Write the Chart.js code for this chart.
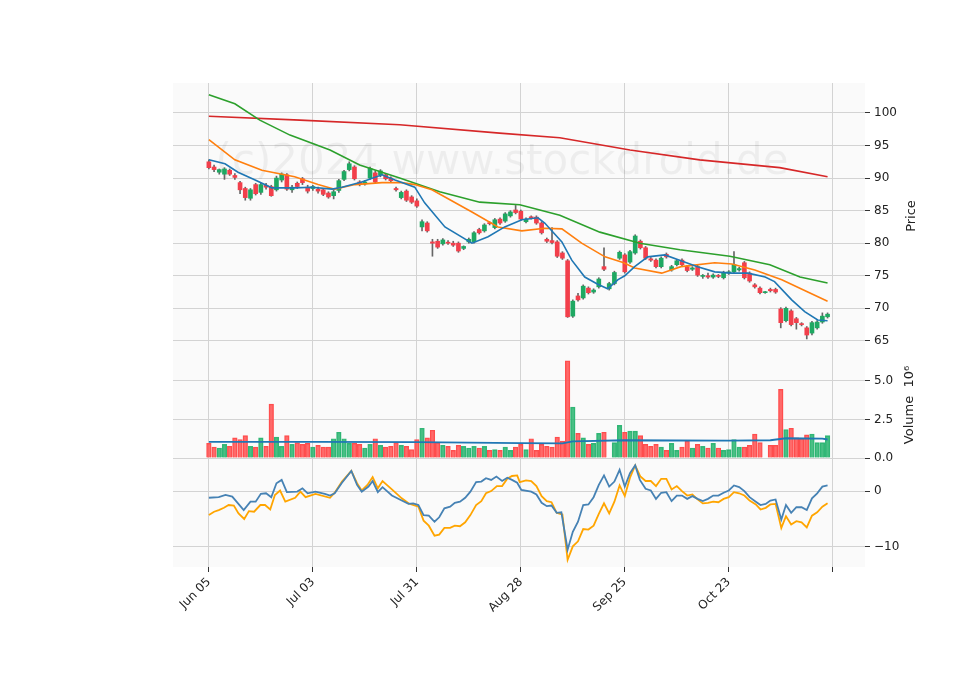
<!DOCTYPE html>
<html>
<head>
<meta charset="utf-8">
<script src="https://cdn.jsdelivr.net/npm/chart.js@4.4.1/dist/chart.umd.min.js"></script>
<style>
  body { margin: 0; background: #fff; }
  #wrap { position: relative; width: 960px; height: 690px; }
  canvas { position: absolute; left: 0; }
</style>
</head>
<body>
<div id="wrap">
  <canvas id="price" style="top:0" width="960" height="350"></canvas>
  <canvas id="macd" style="top:457px" width="960" height="233"></canvas>
  <canvas id="vol" style="top:350px" width="960" height="120"></canvas>
</div>
<script>
// daily candles, index 0 = Jun 05
const opens  = [92.5,91.7,90.9,90.6,91.2,90.4,89.3,88.4,86.9,89.0,87.8,88.9,88.7,88.2,89.7,90.5,88.2,89.2,89.9,88.6,
  88.4,88.3,88.2,87.7,87.3,88.1,89.8,91.3,91.7,89.4,89.1,90.0,90.8,90.5,90.5,90.0,88.4,87.0,88.0,87.1,
  86.5,82.5,83.1,80.2,80.3,79.9,80.1,80.0,80.0,79.2,80.2,80.2,82.1,81.9,83.1,82.4,83.7,83.4,84.2,85.1,
  84.9,83.3,84.0,84.0,83.1,80.6,80.4,80.2,78.5,77.3,68.8,71.9,71.6,73.1,72.5,73.3,76.4,73.0,73.8,77.7,
  78.2,77.1,78.5,80.3,79.3,77.6,77.4,76.4,78.3,75.9,76.7,77.4,76.4,76.0,76.4,74.9,75.0,74.8,75.0,74.7,
  75.4,75.6,75.9,77.0,75.4,73.6,73.1,72.4,72.9,72.9,69.9,68.1,69.6,68.4,67.6,67.0,66.2,67.0,67.9,68.7];
const highs  = [92.8,92.0,91.4,91.6,91.4,90.7,89.5,88.6,88.4,89.2,89.2,89.2,88.9,90.3,90.8,90.7,88.9,89.4,90.1,88.9,
  88.9,88.6,88.4,87.9,88.2,89.8,91.2,92.5,91.9,89.6,89.6,91.7,91.1,91.3,90.7,90.2,88.6,88.0,88.2,87.3,
  86.8,83.6,83.3,80.6,80.6,80.7,80.4,80.3,80.2,79.6,80.8,81.8,82.3,83.0,83.3,83.8,83.9,84.7,85.0,85.8,
  85.1,83.9,84.2,84.2,83.3,80.8,82.4,80.4,78.7,77.5,71.3,72.3,73.6,73.3,73.0,74.7,79.3,74.0,75.7,78.8,
  78.4,78.9,81.3,80.5,79.5,77.8,77.6,77.9,78.5,76.6,77.5,77.6,76.6,76.4,76.6,75.2,75.4,75.3,75.2,75.7,
  75.8,78.7,76.3,77.2,75.6,73.8,73.3,72.6,73.1,73.1,70.1,70.2,69.8,68.6,67.8,67.2,68.0,68.1,69.3,69.3];
const lows   = [91.4,91.0,90.6,89.8,90.4,89.8,87.6,86.6,86.6,87.4,87.5,88.3,87.2,88.0,89.4,88.1,87.8,88.4,89.0,87.7,
  88.1,87.7,87.3,86.9,86.8,87.8,89.6,91.1,89.7,88.8,88.9,89.8,89.2,90.2,89.7,89.4,88.0,86.8,86.4,86.1,
  85.5,81.9,81.7,78.0,79.2,79.7,79.8,79.5,78.6,79.0,80.0,80.0,81.4,81.7,82.8,82.2,82.9,83.2,84.0,84.5,
  83.5,83.1,83.7,82.9,81.4,80.1,79.9,77.8,77.5,68.6,68.6,71.1,71.4,72.2,72.3,73.1,75.8,72.8,73.6,77.5,
  75.4,76.9,78.3,79.1,77.5,77.2,76.2,76.2,77.7,75.7,76.5,76.5,75.6,75.8,74.9,74.6,74.6,74.6,74.7,74.5,
  75.2,75.4,75.7,74.5,74.0,73.1,72.2,72.3,72.5,72.3,67.0,67.9,67.3,66.8,67.3,65.3,65.9,66.8,67.7,68.5];
const closes = [91.6,91.3,91.3,91.4,90.6,90.1,88.2,87.0,88.2,87.6,89.0,88.6,87.3,90.0,90.6,88.3,88.6,88.7,89.3,88.0,
  88.7,88.0,87.5,87.1,87.9,89.6,91.0,92.2,89.9,89.0,89.4,91.5,89.4,91.1,89.9,89.6,88.2,87.8,86.6,86.3,
  85.7,83.3,81.9,80.0,79.4,80.5,80.0,79.7,78.8,79.5,80.6,81.6,81.6,82.8,83.0,83.6,83.1,84.5,84.8,84.7,
  83.7,83.7,83.9,83.1,81.6,80.3,80.1,78.0,77.7,68.7,71.1,71.3,73.4,72.4,72.8,74.5,76.0,73.8,75.5,78.6,
  75.6,78.7,81.1,79.3,77.7,77.4,76.4,77.7,77.9,76.4,77.3,76.7,75.8,76.2,75.1,74.9,74.8,75.1,74.9,75.5,
  75.6,76.7,76.1,74.7,74.2,73.3,72.4,72.4,72.7,72.5,67.8,70.0,67.5,67.8,67.5,65.9,67.8,67.9,68.8,69.1];
// volume in millions
const volumes = [0.95,0.70,0.65,0.88,0.75,1.30,1.20,1.45,0.75,0.70,1.30,0.75,3.50,1.35,0.75,1.45,0.88,1.00,0.88,0.95,
  0.70,0.82,0.70,0.70,1.25,1.67,1.25,0.95,0.95,0.88,0.65,0.88,1.25,0.82,0.70,0.75,1.00,0.82,0.75,0.55,
  1.20,1.93,1.30,1.80,1.00,0.82,0.75,0.50,0.82,0.75,0.65,0.75,0.65,0.75,0.50,0.55,0.50,0.70,0.50,0.70,
  0.88,0.55,1.25,0.50,0.88,0.75,0.70,1.35,1.10,6.30,3.30,1.60,1.30,0.88,0.95,1.60,1.67,0,1.00,2.12,
  1.67,1.75,1.75,1.45,0.88,0.75,0.88,0.70,0.50,0.95,0.50,0.70,1.10,0.65,0.88,0.75,0.65,0.95,0.65,0.50,
  0.55,1.20,0.70,0.70,0.82,1.55,1.00,0,0.82,0.82,4.45,1.85,1.93,1.30,1.25,1.50,1.55,1.00,1.00,1.45];

// moving averages: [index, value]
const ma5  = [[0,92.8],[3.1,92.2],[5.6,90.9],[8.9,89.7],[12.1,88.5],[16.5,88.5],[19.8,88.6],[23.7,88.3],[25.6,88.6],
  [29.4,89.4],[33.3,90.5],[35.8,89.7],[39.6,88.6],[41.5,86.2],[45.4,82.5],[50.6,80.0],[53.7,81.0],[56.9,82.5],
  [60.2,83.6],[63.3,83.9],[64.6,83.1],[67.9,80.2],[69.8,77.4],[72.3,74.8],[74.8,73.7],[76.7,73.0],[78.7,74.4],
  [80,75.0],[81.9,76.4],[84.4,77.9],[87.7,78.2],[90.8,77.3],[94,76.4],[97.3,75.6],[100.6,75.4],[103.7,75.4],
  [107,74.8],[108.8,74.1],[112.1,71.3],[114.6,69.5],[117.1,68.2],[119,68.1]];
const ma10 = [[0,95.9],[5,92.8],[10.2,91.2],[16.5,90.2],[21,89.0],[24.2,88.3],[28.1,89.0],[33.3,89.3],[37.1,89.3],
  [39.6,89.0],[42.9,88.2],[50.6,84.8],[55.6,82.5],[60.2,81.9],[64.6,82.3],[67.9,82.2],[71.7,80.0],[76.2,77.9],
  [79.8,77.0],[81.9,76.2],[87.1,75.4],[90.8,76.4],[97.3,77.0],[100.6,76.8],[105,75.9],[110.2,74.4],[115.2,72.5],[119,71.1]];
const ma20 = [[0,102.8],[5,101.4],[9.8,98.9],[15.6,96.6],[23.3,94.3],[29,92.0],[36.7,90.0],[44.4,87.9],[52.1,86.3],
  [59.8,85.9],[67.5,84.3],[75.2,81.7],[82.9,80.0],[90.6,79.0],[100.2,78.0],[107.9,76.7],[113.7,74.8],[119,73.9]];
const ma50 = [[0,99.5],[17.5,98.9],[36.7,98.2],[55.9,96.9],[67.5,96.2],[81,94.3],[94.4,92.8],[109.8,91.6],[119,90.2]];
const volMa = [[0,1.05],[20,1.05],[40,1.03],[60,0.97],[68,0.95],[70,1.08],[80,1.15],[100,1.12],[108,1.15],[111,1.28],[118,1.25],[119,1.2]];

const macdLine = [[0,-1.2],[1.9,-1.1],[3.2,-0.7],[4.5,-1.0],[6.7,-3.4],[8,-1.9],[9,-1.9],[10,-0.5],[11,-0.4],[12,-1.1],
  [13,1.4],[14,2.0],[15,-0.2],[17,-0.1],[18,0.5],[19,-0.4],[20.5,-0.1],[22.3,-0.5],[23.3,-0.8],[24.2,-0.4],[25.6,1.5],
  [27.4,3.6],[28.5,1.1],[29.4,-0.1],[30.7,0.8],[31.5,1.8],[32.5,-0.2],[33.4,0.7],[35.2,-0.8],[37.1,-1.7],[38.4,-2.3],
  [39.3,-2.2],[40.3,-2.5],[41.3,-4.3],[42.3,-4.4],[43.4,-5.5],[44.3,-4.7],[45.3,-3.1],[46.4,-2.8],[47.3,-2.1],[48.3,-1.9],
  [49.3,-1.2],[50.3,-0.1],[51.4,1.6],[52.4,1.7],[53.3,2.3],[54.3,2.0],[55.3,2.6],[56.4,1.8],[57.4,2.4],[58.3,2.0],
  [59.3,1.5],[60.1,0.2],[62,-0.1],[63,-0.6],[64,-2.1],[65,-2.7],[65.9,-2.6],[66.9,-3.9],[67.8,-3.8],[69,-10.5],
  [70,-7.3],[71,-5.5],[72,-2.5],[73,-2.4],[74,-1.1],[75,1.1],[76,2.8],[77,0.8],[78,1.7],[79,3.8],[80,0.8],[81,3.2],
  [82,4.6],[82.9,2.0],[84,0.4],[85,0.1],[86,-1.4],[87,-0.3],[88,-0.2],[89,-1.8],[90,-0.8],[91,-0.8],[92,-1.4],[93,-0.9],
  [94,-1.4],[95,-1.8],[96,-1.4],[97,-0.8],[98,-0.8],[99,-0.3],[100,0.1],[101,1.0],[102,0.7],[103,0.0],[104,-1.1],
  [105.2,-1.9],[106.1,-2.5],[107.1,-2.3],[108,-1.7],[109,-1.5],[110.1,-5.1],[111,-2.5],[112,-3.9],[113,-2.9],[114,-2.9],
  [115,-3.4],[116,-1.3],[117,-0.4],[118,0.8],[119,1.0]];
const signalLine = [[0,-4.3],[1,-3.7],[1.9,-3.4],[2.9,-3.0],[3.8,-2.5],[4.8,-2.6],[5.7,-4.0],[6.8,-5.0],[7.7,-3.6],[8.7,-3.7],
  [9.9,-2.5],[10.8,-2.5],[11.8,-3.3],[12.7,-0.7],[13.7,0.1],[14.7,-1.9],[16.6,-1.2],[17.6,-0.1],[18.6,-1.1],[20.5,-0.5],
  [23.3,-1.2],[24.2,-0.3],[25.6,1.7],[27.4,3.6],[28.5,1.4],[29.4,0.1],[30.5,1.1],[31.5,2.5],[32.5,0.5],[33.4,1.8],
  [35.2,0.3],[37.1,-1.3],[38.4,-2.2],[40.3,-2.8],[41.3,-5.3],[42.3,-6.2],[43.4,-8.0],[44.3,-7.8],[45.3,-6.6],[46.4,-6.6],
  [47.3,-6.2],[48.3,-6.3],[49.3,-5.6],[50.3,-4.3],[51.4,-2.5],[52.4,-1.8],[53.3,-0.4],[54.3,0.0],[55.4,0.9],[56.4,0.9],
  [57.4,2.2],[58.3,2.7],[59.3,2.8],[59.8,1.6],[61,1.9],[62,1.8],[63,0.9],[64,-0.9],[65,-1.8],[65.9,-2.0],[66.9,-3.9],
  [68,-4.2],[69,-12.3],[70,-9.9],[71,-9.0],[72,-6.8],[73,-6.9],[74,-6.2],[75,-4.1],[76,-2.2],[77,-4.0],[78,-1.9],[79,1.0],
  [80,-0.9],[81,2.4],[82,4.6],[83,2.6],[84,1.8],[85,1.8],[86,0.9],[87,2.2],[88,2.2],[89,0.3],[90,0.9],[91,0.0],[92,-0.8],
  [93,-0.6],[94,-1.5],[95,-2.2],[96,-2.1],[97,-1.9],[98,-2.0],[99,-1.4],[100,-1.1],[101,-0.2],[102,-0.4],[103,-0.8],
  [104,-1.7],[105.2,-2.4],[106.1,-3.3],[107.1,-3.0],[108,-2.4],[109,-2.3],[110.1,-6.6],[111,-4.5],[112,-6.0],[113,-5.4],
  [114,-5.6],[115,-6.5],[116,-4.4],[117,-3.8],[118,-2.8],[119,-2.2]];

const xTicks = [0, 20, 40, 60, 80, 100, 120];
const xTickLabels = ["Jun 05", "Jul 03", "Jul 31", "Aug 28", "Sep 25", "Oct 23", ""];
const priceTicks = [65, 70, 75, 80, 85, 90, 95, 100];
const volTicks = [0, 2.5, 5.0];
const macdTicks = [-10, 0];

const UP = "#1ea862", DOWN = "#f23f4b";
const VUP = "rgba(40,180,110,0.85)", VDOWN = "rgba(255,80,80,0.85)";
const GRID = "#d3d3d3";
const FONT = { family: "DejaVu Sans", size: 12 };
const up = closes.map((c, i) => c >= opens[i]);

const bgPlugin = {
  id: "bg",
  beforeDraw(chart) {
    const { ctx, chartArea: a } = chart;
    ctx.save();
    ctx.fillStyle = "#fafafa";
    ctx.fillRect(a.left, a.top, a.right - a.left, a.bottom - a.top);
    ctx.restore();
  },
};

function titlePlugin(text, x, y) {
  return {
    id: "ytitle",
    afterDraw(chart) {
      const ctx = chart.ctx;
      ctx.save();
      ctx.translate(x, y);
      ctx.rotate(-Math.PI / 2);
      ctx.fillStyle = "#222";
      ctx.font = "13px 'DejaVu Sans'";
      ctx.textAlign = "center";
      ctx.textBaseline = "middle";
      ctx.fillText(text, 0, 0);
      ctx.restore();
    },
  };
}

const watermark = {
  id: "wm",
  beforeDatasetsDraw(chart) {
    const ctx = chart.ctx;
    ctx.save();
    ctx.fillStyle = "rgba(0,0,0,0.05)";
    ctx.font = "42px 'DejaVu Sans'";
    ctx.textAlign = "center";
    ctx.textBaseline = "middle";
    ctx.fillText("(c)2024 www.stockdroid.de", 502, 163);
    ctx.restore();
  },
};

function xScale(showLabels) {
  return {
    type: "linear", min: -6.9, max: 126.2, offset: false,
    afterBuildTicks: (s) => { s.ticks = xTicks.map((v) => ({ value: v })); },
    afterFit: (s) => {
      if (!showLabels) s.height = 0;
      s.paddingLeft = 0; s.paddingRight = 0;
    },
    grid: { color: GRID, offset: false, drawTicks: showLabels, tickLength: 5, tickColor: "#333" },
    border: { display: false },
    ticks: {
      display: showLabels, font: FONT, color: "#222", minRotation: 45, maxRotation: 45,
      callback: (v) => { const k = xTicks.indexOf(v); return k >= 0 ? xTickLabels[k] : ""; },
    },
  };
}

function yScale(min, max, ticks, fmt) {
  return {
    position: "right", min, max,
    afterBuildTicks: (s) => { s.ticks = ticks.map((v) => ({ value: v })); },
    afterFit: (s) => { s.width = 95; s.paddingTop = 0; s.paddingBottom = 0; },
    grid: { color: GRID, tickLength: 5, tickColor: "#333" },
    border: { display: false },
    ticks: { font: FONT, color: "#222", padding: 4, callback: fmt },
  };
}

const baseOpts = (padTop, padBottom) => ({
  responsive: false, animation: false,
  layout: { padding: { left: 173, top: padTop, right: 0, bottom: padBottom || 0 } },
  plugins: { legend: { display: false }, tooltip: { enabled: false } },
});

const line = (pts, color, w) => ({
  type: "line", data: pts.map(([x, y]) => ({ x, y })), borderColor: color,
  borderWidth: w, pointRadius: 0, tension: 0, fill: false,
});

// price panel
new Chart(document.getElementById("price"), {
  type: "bar",
  data: {
    datasets: [
      line(ma5, "#1f77b4", 1.6),
      line(ma10, "#ff7f0e", 1.6),
      line(ma20, "#2ca02c", 1.6),
      line(ma50, "#d62728", 1.6),
      {
        data: opens.map((o, i) => ({ x: i, y: [o, closes[i]] })),
        backgroundColor: up.map((u) => (u ? UP : DOWN)),
        barThickness: 4, minBarLength: 1, grouped: false,
      },
      {
        data: opens.map((o, i) => ({ x: i, y: [lows[i], highs[i]] })),
        backgroundColor: "#666", barThickness: 1, grouped: false,
      },
    ],
  },
  options: {
    ...baseOpts(83),
    scales: { x: xScale(false), y: yScale(63.6, 104.6, priceTicks, (v) => v) },
  },
  plugins: [bgPlugin, watermark, titlePlugin("Price", 912, 216)],
});

// volume panel (canvas is 12px taller so the 0.0 label is not clipped)
new Chart(document.getElementById("vol"), {
  type: "bar",
  data: {
    datasets: [
      line(volMa, "#1f77b4", 1.8),
      {
        data: volumes.map((v, i) => ({ x: i, y: v })),
        backgroundColor: up.map((u) => (u ? VUP : VDOWN)),
        borderColor: up.map((u) => (u ? "#36b87a" : "#ff4d4d")),
        borderWidth: 0.8, barThickness: 4.6, grouped: false,
      },
    ],
  },
  options: {
    ...baseOpts(0, 12),
    scales: { x: xScale(false), y: yScale(0, 7.0, volTicks, (v) => v.toFixed(1)) },
  },
  plugins: [bgPlugin, titlePlugin("Volume  10\u2076", 910, 55)],
});

// MACD panel
new Chart(document.getElementById("macd"), {
  type: "line",
  data: {
    datasets: [
      line(macdLine, "#4682b4", 1.8),
      line(signalLine, "#ffa500", 1.8),
    ],
  },
  options: {
    ...baseOpts(0),
    scales: {
      x: { ...xScale(true), afterFit: (s) => { s.height = 123; s.paddingLeft = 0; s.paddingRight = 0; } },
      y: yScale(-13.6, 6.1, macdTicks, (v) => (v < 0 ? "\u2212" + Math.abs(v) : v)),
    },
  },
  plugins: [bgPlugin],
});
</script>
</body>
</html>
